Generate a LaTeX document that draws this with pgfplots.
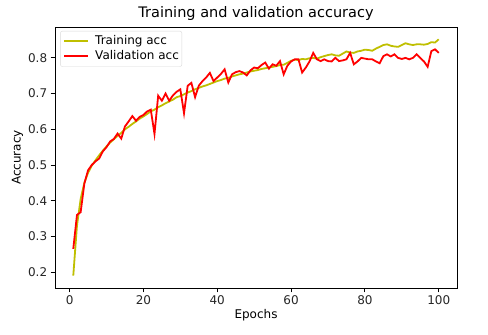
\documentclass[border=0pt]{standalone}
\usepackage{fontspec}
\setmainfont{DejaVu Sans}
\usepackage{pgfplots}
\pgfplotsset{compat=1.18}
\definecolor{myyellow}{rgb}{0.75,0.75,0}
\definecolor{myred}{rgb}{1,0,0}
\newcommand{\legline}[1]{\tikz[baseline=-3.5pt]\draw[#1, line width=1.8pt] (0pt,0pt) -- (24pt,0pt);}
\begin{document}
\begin{tikzpicture}
\useasboundingbox (-55pt,-47pt) rectangle (433pt,288pt);
\begin{axis}[
  scale only axis, width=402pt, height=261pt,
  at={(0,0)}, anchor=south west,
  xmin=-3.95, xmax=104.95, ymin=0.1555, ymax=0.8865,
  xtick={0,20,...,100}, ytick={0.2,0.3,0.4,0.5,0.6,0.7,0.8},
  yticklabel style={/pgf/number format/fixed,/pgf/number format/precision=1,/pgf/number format/fixed zerofill},
  /pgf/number format/assume math mode=true,
  tick label style={font=\fontsize{12}{14}\selectfont, text=black!85},
  tick align=outside, tick pos=lower, major tick length=4.3pt,
  tick style={black, line width=0.9pt},
  axis line style={line width=0.9pt},
  title={Training and validation accuracy},
  title style={font=\fontsize{14.5}{17}\selectfont, yshift=-3pt},
  xlabel={Epochs}, ylabel={Accuracy},
  xlabel style={font=\fontsize{12}{14}\selectfont, yshift=2pt},
  ylabel style={font=\fontsize{12}{14}\selectfont, yshift=-2pt},
]
\addplot[color=myyellow, line width=1.8pt] coordinates {
(1,0.190) (2,0.330) (3,0.405) (4,0.450) (5,0.478) (6,0.498) (7,0.513) (8,0.527) (9,0.540) (10,0.552)
(11,0.563) (12,0.572) (13,0.582) (14,0.590) (15,0.600) (16,0.607) (17,0.615) (18,0.622) (19,0.630) (20,0.636)
(21,0.643) (22,0.650) (23,0.655) (24,0.662) (25,0.667) (26,0.673) (27,0.678) (28,0.683) (29,0.690) (30,0.693)
(31,0.698) (32,0.703) (33,0.707) (34,0.712) (35,0.716) (36,0.720) (37,0.723) (38,0.727) (39,0.731) (40,0.735)
(41,0.738) (42,0.742) (43,0.744) (44,0.748) (45,0.751) (46,0.754) (47,0.756) (48,0.759) (49,0.762) (50,0.764)
(51,0.766) (52,0.769) (53,0.771) (54,0.773) (55,0.775) (56,0.777) (57,0.780) (58,0.781) (59,0.786) (60,0.792)
(61,0.795) (62,0.794) (63,0.797) (64,0.796) (65,0.799) (66,0.800) (67,0.798) (68,0.802) (69,0.805) (70,0.808)
(71,0.810) (72,0.807) (73,0.806) (74,0.812) (75,0.818) (76,0.815) (77,0.814) (78,0.818) (79,0.820) (80,0.823)
(81,0.822) (82,0.820) (83,0.826) (84,0.831) (85,0.836) (86,0.838) (87,0.834) (88,0.832) (89,0.831) (90,0.836)
(91,0.841) (92,0.838) (93,0.836) (94,0.838) (95,0.838) (96,0.837) (97,0.839) (98,0.844) (99,0.843) (100,0.852)
};
\addplot[color=myred, line width=1.8pt] coordinates {
(1,0.265) (2,0.360) (3,0.368) (4,0.448) (5,0.485) (6,0.500) (7,0.510) (8,0.518) (9,0.538) (10,0.550)
(11,0.566) (12,0.573) (13,0.588) (14,0.574) (15,0.608) (16,0.622) (17,0.637) (18,0.624) (19,0.635) (20,0.640)
(21,0.650) (22,0.655) (23,0.587) (24,0.694) (25,0.680) (26,0.700) (27,0.680) (28,0.695) (29,0.705) (30,0.712)
(31,0.645) (32,0.722) (33,0.730) (34,0.690) (35,0.722) (36,0.735) (37,0.745) (38,0.758) (39,0.735) (40,0.745)
(41,0.755) (42,0.768) (43,0.731) (44,0.754) (45,0.760) (46,0.763) (47,0.759) (48,0.751) (49,0.765) (50,0.773)
(51,0.771) (52,0.780) (53,0.787) (54,0.770) (55,0.782) (56,0.778) (57,0.791) (58,0.754) (59,0.778) (60,0.790)
(61,0.796) (62,0.796) (63,0.759) (64,0.773) (65,0.790) (66,0.814) (67,0.796) (68,0.791) (69,0.796) (70,0.791)
(71,0.790) (72,0.800) (73,0.791) (74,0.793) (75,0.796) (76,0.814) (77,0.782) (78,0.790) (79,0.800) (80,0.798)
(81,0.796) (82,0.796) (83,0.790) (84,0.785) (85,0.805) (86,0.810) (87,0.804) (88,0.810) (89,0.800) (90,0.797)
(91,0.800) (92,0.796) (93,0.800) (94,0.810) (95,0.800) (96,0.790) (97,0.775) (98,0.819) (99,0.824) (100,0.814)
};
\node[draw=black!15, fill=white, rounded corners=2pt, anchor=north west, inner sep=3pt,
  font=\fontsize{12}{14}\selectfont] at (rel axis cs:0.013,0.985)
  {\renewcommand{\arraystretch}{1.05}\begin{tabular}{@{}l@{\hspace{6pt}}l@{}}
   \legline{myyellow} & Training acc\\
   \legline{myred} & Validation acc
  \end{tabular}};
\end{axis}
\end{tikzpicture}
\end{document}
